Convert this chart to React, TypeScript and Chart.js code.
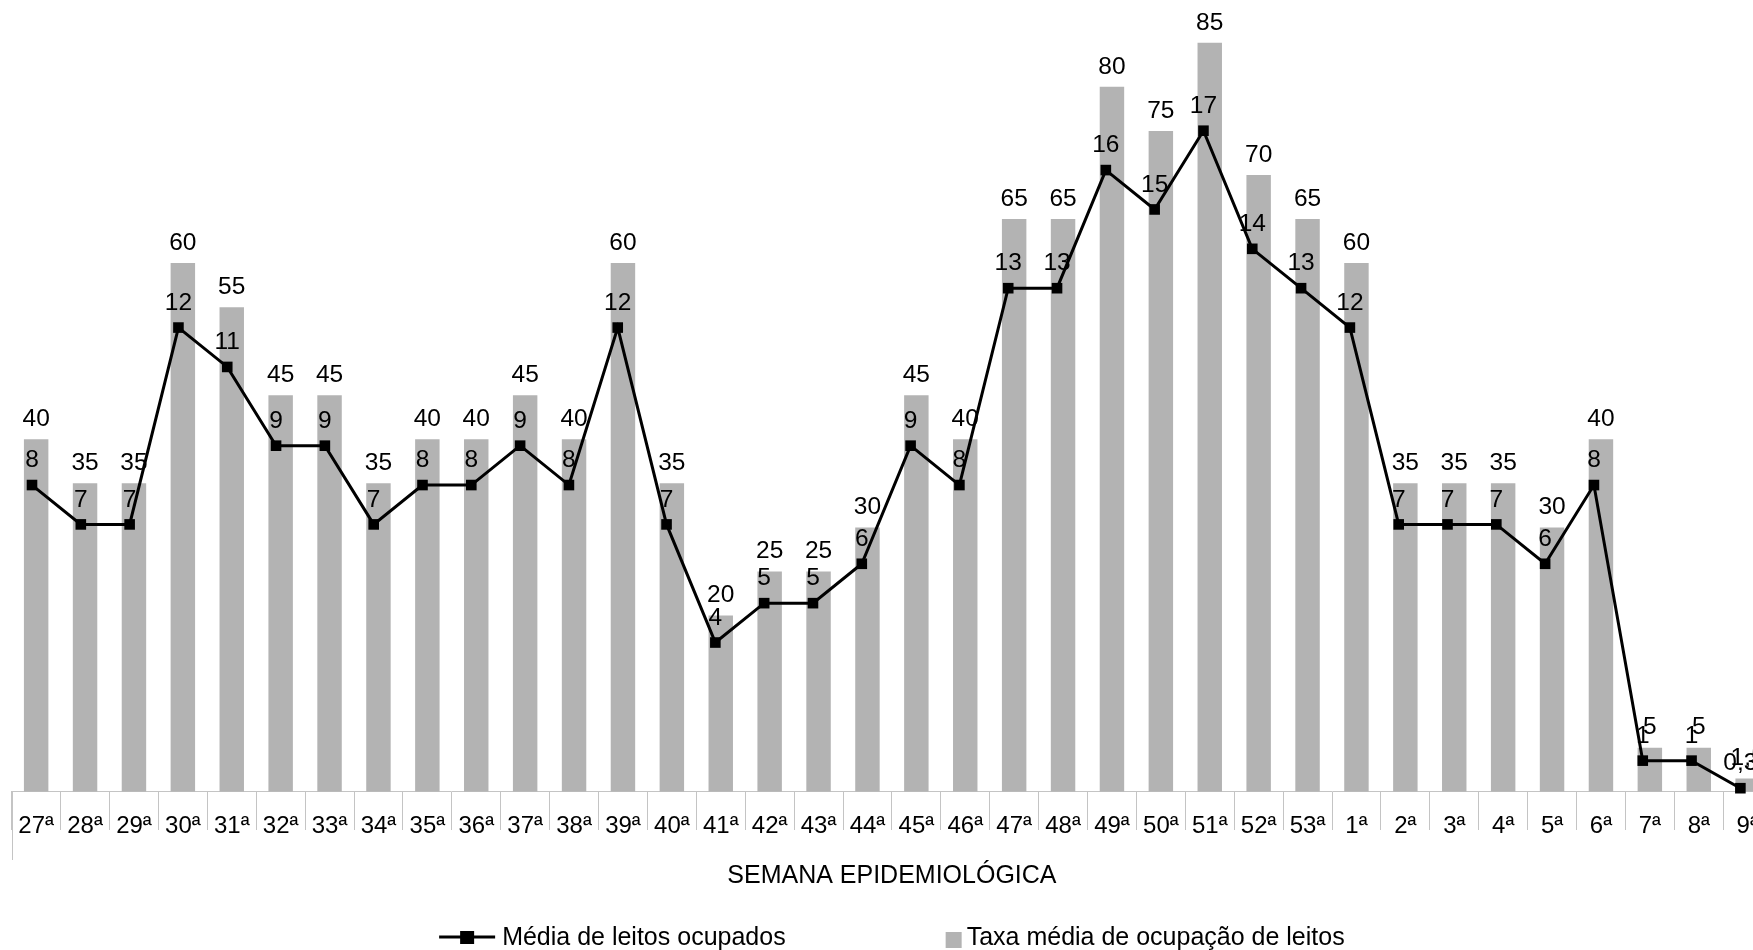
import React, { useEffect, useRef } from 'react';
import { Chart, registerables } from 'chart.js';

Chart.register(...registerables);

const FONT = "'Liberation Sans', Arial, sans-serif";

const weeks = [
  '27ª', '28ª', '29ª', '30ª', '31ª', '32ª', '33ª', '34ª', '35ª', '36ª', '37ª', '38ª', '39ª', '40ª',
  '41ª', '42ª', '43ª', '44ª', '45ª', '46ª', '47ª', '48ª', '49ª', '50ª', '51ª', '52ª', '53ª',
  '1ª', '2ª', '3ª', '4ª', '5ª', '6ª', '7ª', '8ª', '9ª',
];

const taxaOcupacao = [
  40, 35, 35, 60, 55, 45, 45, 35, 40, 40, 45, 40, 60, 35, 20, 25, 25, 30, 45, 40,
  65, 65, 80, 75, 85, 70, 65, 60, 35, 35, 35, 30, 40, 5, 5, 1.5,
];

const mediaLeitos = [
  8, 7, 7, 12, 11, 9, 9, 7, 8, 8, 9, 8, 12, 7, 4, 5, 5, 6, 9, 8,
  13, 13, 16, 15, 17, 14, 13, 12, 7, 7, 7, 6, 8, 1, 1, 0.3,
];

const seriesNames = ['Média de leitos ocupados', 'Taxa média de ocupação de leitos'];
const axisTitle = 'SEMANA EPIDEMIOLÓGICA';

const BAR_COLOR = '#b3b3b3';
const GRID_COLOR = '#c4c4c4';

const fmt = (v: number) => String(v).replace('.', ',');

const labelPlugin = {
  id: 'valueLabels',
  afterDatasetsDraw(chart: any) {
    const ctx = chart.ctx;
    ctx.save();
    ctx.font = `24.5px ${FONT}`;
    ctx.fillStyle = '#000';
    ctx.textAlign = 'center';
    ctx.textBaseline = 'alphabetic';
    const barMeta = chart.getDatasetMeta(1);
    barMeta.data.forEach((el: any, i: number) => {
      ctx.fillText(fmt(taxaOcupacao[i]), el.x, el.y - 13.3);
    });
    const lineMeta = chart.getDatasetMeta(0);
    lineMeta.data.forEach((el: any, i: number) => {
      ctx.fillText(fmt(mediaLeitos[i]), el.x, el.y - 17.7);
    });
    // left border line of the category table
    const { left, bottom } = chart.chartArea;
    ctx.strokeStyle = GRID_COLOR;
    ctx.lineWidth = 1;
    ctx.beginPath();
    const lx = Math.round(left) + 0.5;
    ctx.moveTo(lx, bottom);
    ctx.lineTo(lx, 860);
    ctx.stroke();
    ctx.restore();
  },
  afterDraw(chart: any) {
    const ctx = chart.ctx;
    const { left, right } = chart.chartArea;
    const center = (left + right) / 2;
    ctx.save();
    ctx.font = `25px ${FONT}`;
    ctx.textBaseline = 'middle';
    ctx.textAlign = 'left';
    const w1 = ctx.measureText(seriesNames[0]).width;
    const w2 = ctx.measureText(seriesNames[1]).width;
    const lineSym = 56;
    const gap1 = 7;
    const sq = 16;
    const gap2 = 5;
    const itemGap = 160;
    const total = lineSym + gap1 + w1 + itemGap + sq + gap2 + w2;
    let x = center - total / 2;
    const y = 938;
    // line symbol
    ctx.strokeStyle = '#000';
    ctx.lineWidth = 3;
    ctx.beginPath();
    ctx.moveTo(x, y - 1);
    ctx.lineTo(x + lineSym, y - 1);
    ctx.stroke();
    ctx.fillStyle = '#000';
    ctx.fillRect(x + lineSym / 2 - 7, y - 7, 14, 13);
    x += lineSym + gap1;
    ctx.fillStyle = '#000';
    ctx.fillText(seriesNames[0], x, y);
    x += w1 + itemGap;
    ctx.fillStyle = BAR_COLOR;
    ctx.fillRect(x, y - 6, sq, sq);
    x += sq + gap2;
    ctx.fillStyle = '#000';
    ctx.fillText(seriesNames[1], x, y);
    ctx.restore();
  },
};

export default function App() {
  const ref = useRef<HTMLCanvasElement | null>(null);

  useEffect(() => {
    if (!ref.current) return;
    Chart.defaults.font.family = FONT;
    const chart = new Chart(ref.current, {
      data: {
        labels: weeks,
        datasets: [
          {
            type: 'line',
            label: seriesNames[0],
            data: mediaLeitos.map((v, i) => ({ x: i, y: v })),
            xAxisID: 'x2',
            yAxisID: 'y1',
            borderColor: '#000',
            borderWidth: 3,
            pointStyle: 'rect',
            pointRadius: 7.5,
            pointBackgroundColor: '#000',
            pointBorderColor: '#000',
            pointBorderWidth: 0,
            tension: 0,
            clip: false,
            order: 0,
          } as any,
          {
            type: 'bar',
            label: seriesNames[1],
            data: taxaOcupacao,
            xAxisID: 'x',
            yAxisID: 'y',
            backgroundColor: BAR_COLOR,
            borderWidth: 0,
            barPercentage: 0.5,
            categoryPercentage: 1.0,
            grouped: false,
            order: 1,
          } as any,
        ],
      },
      options: {
        responsive: false,
        devicePixelRatio: 1,
        animation: false,
        events: [],
        layout: { padding: { left: 11.7, right: 11.9, top: 12.6, bottom: 0 } },
        plugins: {
          legend: { display: false },
          tooltip: { enabled: false },
        },
        scales: {
          x: {
            type: 'category',
            position: 'bottom',
            offset: true,
            grid: {
              display: true,
              drawOnChartArea: false,
              offset: true,
              drawTicks: true,
              tickLength: 38.3,
              color: GRID_COLOR,
              lineWidth: 1,
            },
            border: { display: true, color: GRID_COLOR, width: 1 },
            ticks: {
              font: { size: 24, family: FONT },
              color: '#000',
              padding: -18.4,
              maxRotation: 0,
              minRotation: 0,
              autoSkip: false,
            },
            title: {
              display: true,
              text: axisTitle,
              color: '#000',
              font: { size: 25, family: FONT },
              padding: { top: 0, bottom: 59 },
            },
            afterFit: (s: any) => {
              s.height = 158.3;
            },
          },
          x2: {
            type: 'linear',
            display: false,
            offset: false,
            min: -0.416,
            max: 35.65,
          },
          y: {
            type: 'linear',
            display: false,
            min: 0,
            max: 88.43,
          },
          y1: {
            type: 'linear',
            display: false,
            min: 0.211,
            max: 20,
          },
        },
      } as any,
      plugins: [labelPlugin],
    });
    return () => chart.destroy();
  }, []);

  return (
    <div
      style={{
        position: 'fixed',
        left: 0,
        top: 0,
        width: 1753,
        height: 950,
        overflow: 'hidden',
        background: '#fff',
      }}
    >
      <canvas ref={ref} width={1784} height={950} style={{ display: 'block', width: 1784, height: 950 }} />
    </div>
  );
}
